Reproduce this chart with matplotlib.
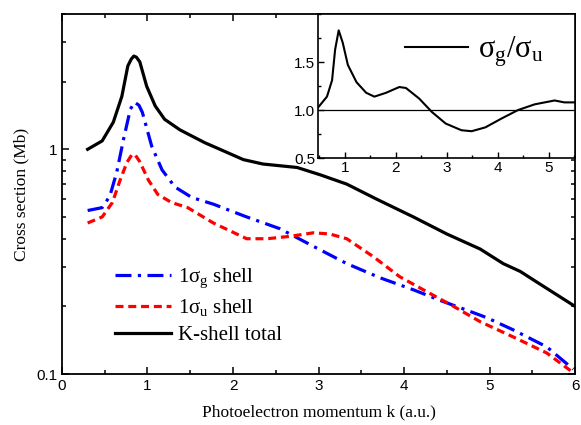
import numpy as np
import matplotlib
matplotlib.use('Agg')
import matplotlib.pyplot as plt
from matplotlib.ticker import MultipleLocator, FixedLocator, NullFormatter, LogLocator

# --- данные ---
k_total = [0.30, 0.47, 0.60, 0.70, 0.77, 0.81, 0.84, 0.87, 0.91, 0.99, 1.09, 1.20, 1.38,
           1.67, 1.77, 2.12, 2.35, 2.75, 3.02, 3.33, 3.68, 4.11, 4.50, 4.89, 5.16, 5.36,
           5.55, 6.00]
sigma_total = [1.00, 1.09, 1.32, 1.72, 2.35, 2.52, 2.60, 2.57, 2.45, 1.91, 1.56, 1.36, 1.22,
               1.07, 1.03, 0.90, 0.86, 0.83, 0.77, 0.70, 0.60, 0.50, 0.42, 0.36, 0.31, 0.286,
               0.257, 0.20]

k_g = [0.30, 0.47, 0.56, 0.64, 0.72, 0.80, 0.85, 0.90, 0.94, 1.05, 1.17, 1.32, 1.52, 1.77,
       2.16, 2.55, 2.94, 3.33, 3.72, 4.11, 4.46, 4.66, 4.97, 5.28, 5.67, 5.98]
sigma_g = [0.534, 0.55, 0.62, 0.79, 1.11, 1.51, 1.62, 1.57, 1.46, 1.03, 0.81, 0.68, 0.61,
           0.57, 0.50, 0.443, 0.37, 0.31, 0.268, 0.237, 0.21, 0.197, 0.178, 0.157, 0.132,
           0.105]

k_u = [0.30, 0.47, 0.59, 0.68, 0.76, 0.82, 0.86, 0.91, 1.01, 1.12, 1.28, 1.47, 1.77, 2.16,
       2.40, 2.67, 2.94, 3.13, 3.33, 3.64, 3.95, 4.27, 4.54, 4.89, 5.28, 5.67, 6.00]
sigma_u = [0.47, 0.50, 0.58, 0.73, 0.875, 0.95, 0.94, 0.88, 0.73, 0.63, 0.58, 0.55, 0.47,
           0.40, 0.40, 0.41, 0.425, 0.42, 0.40, 0.333, 0.271, 0.232, 0.204, 0.171, 0.146,
           0.124, 0.10]

k_ratio = [0.48, 0.65, 0.75, 0.81, 0.88, 0.96, 1.06, 1.23, 1.42, 1.58, 1.81, 2.07, 2.20,
           2.46, 2.71, 2.98, 3.29, 3.49, 3.76, 4.07, 4.40, 4.73, 5.12, 5.31, 5.50]
ratio = [1.03, 1.14, 1.31, 1.63, 1.83, 1.70, 1.47, 1.29, 1.18, 1.14, 1.18, 1.24, 1.23,
         1.12, 0.98, 0.86, 0.79, 0.78, 0.82, 0.91, 1.00, 1.06, 1.10, 1.08, 1.08]

plt.rcParams['font.family'] = ['Liberation Sans', 'DejaVu Sans']
plt.rcParams['mathtext.fontset'] = 'custom'
plt.rcParams['mathtext.rm'] = 'Liberation Serif'
plt.rcParams['mathtext.it'] = 'Liberation Serif:italic'

SERIF = ['Liberation Serif', 'DejaVu Serif']

fig = plt.figure(figsize=(5.81, 4.25), dpi=100)
ax = fig.add_axes([0.1067, 0.12, 0.883, 0.847])

lw = 2.3
ax.plot(k_g, sigma_g, color='#0000ff', lw=lw, linestyle=(0, (5, 2, 1, 2)),
        label='1σ$_\\mathrm{g}$ shell')
ax.plot(k_u, sigma_u, color='#ff0000', lw=lw, linestyle=(0, (2.5, 1.5)),
        label='1σ$_\\mathrm{u}$ shell')
ax.plot(k_total, sigma_total, color='black', lw=lw, label='K-shell total')

ax.set_yscale('log')
ax.set_xlim(0, 6)
ax.set_ylim(0.1, 4)
ax.xaxis.set_major_locator(MultipleLocator(1))
ax.xaxis.set_minor_locator(MultipleLocator(0.5))
ax.yaxis.set_major_locator(FixedLocator([0.1, 1]))
ax.yaxis.set_minor_locator(LogLocator(base=10, subs=np.arange(2, 10)))
ax.yaxis.set_minor_formatter(NullFormatter())
ax.set_yticklabels(['0.1', '1'])
ax.tick_params(which='both', direction='in', top=True, right=True, labelsize=11, width=1.1)
ax.tick_params(which='major', length=5)
ax.tick_params(which='minor', length=3)
for s in ax.spines.values():
    s.set_linewidth(1.3)

ax.set_xlabel('Photoelectron momentum k (a.u.)', family=SERIF, fontsize=12.5, labelpad=8)
ax.set_ylabel('Cross section (Mb)', family=SERIF, fontsize=12.5, labelpad=5)

leg = ax.legend(loc='center left', bbox_to_anchor=(0.198, 0.28), bbox_transform=fig.transFigure,
                frameon=False, borderpad=0, borderaxespad=0, handlelength=2.7,
                handletextpad=0.3, labelspacing=0.35, prop={'family': SERIF, 'size': 15})

# --- вставка: отношение сечений ---
ins = fig.add_axes([0.547, 0.628, 0.4427, 0.339])
ins.plot(k_ratio, ratio, color='black', lw=1.5, label='σ$_\\mathrm{g}$/σ$_\\mathrm{u}$')
ins.axhline(1.0, color='black', lw=0.9)
ins.set_xlim(0.47, 5.52)
ins.set_ylim(0.5, 2.0)
ins.xaxis.set_major_locator(MultipleLocator(1))
ins.xaxis.set_minor_locator(MultipleLocator(0.5))
ins.yaxis.set_major_locator(FixedLocator([0.5, 1.0, 1.5]))
ins.yaxis.set_minor_locator(MultipleLocator(0.25))
ins.set_yticklabels(['0.5', '1.0', '1.5'])
ins.tick_params(which='both', direction='in', labelsize=11, width=1.0, pad=2)
ins.tick_params(which='major', length=4)
ins.tick_params(which='minor', length=2.5)
for s in ins.spines.values():
    s.set_linewidth(1.2)
ins.legend(loc='center left', bbox_to_anchor=(0.697, 0.878), bbox_transform=fig.transFigure,
           frameon=False, borderpad=0, borderaxespad=0, handlelength=2.05,
           handletextpad=0.33, prop={'family': SERIF, 'size': 22})

fig.savefig('out.png', dpi=100)
